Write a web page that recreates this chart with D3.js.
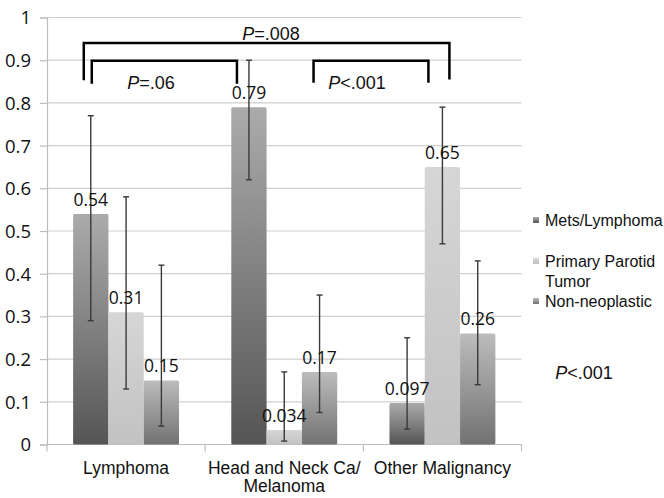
<!DOCTYPE html>
<html><head><meta charset="utf-8">
<script src="https://cdn.jsdelivr.net/npm/d3@7"></script>
<style>body{margin:0;background:#fff}svg{display:block}</style>
</head><body>
<svg id="c" width="664" height="498"></svg>
<script>
const categories = ["Lymphoma", "Head and Neck Ca/\nMelanoma", "Other Malignancy"];
const seriesNames = ["Mets/Lymphoma", "Primary Parotid\nTumor", "Non-neoplastic"];
const metsValues = [0.54, 0.79, 0.097];
const primaryValues = [0.31, 0.034, 0.65];
const nonNeoValues = [0.15, 0.17, 0.26];
const metsLow = [0.29, 0.62, 0.036], metsHigh = [0.77, 0.90, 0.25];
const primaryLow = [0.13, 0.008, 0.47], primaryHigh = [0.58, 0.17, 0.79];
const nonNeoLow = [0.043, 0.075, 0.14], nonNeoHigh = [0.42, 0.35, 0.43];
const valueLabels = [["0.54","0.79","0.097"],["0.31","0.034","0.65"],["0.15","0.17","0.26"]];
const yTicks = [0,0.1,0.2,0.3,0.4,0.5,0.6,0.7,0.8,0.9,1];
const yTickLabels = ["0","0.1","0.2","0.3","0.4","0.5","0.6","0.7","0.8","0.9","1"];

const series = [
  {name: seriesNames[0], values: metsValues, low: metsLow, high: metsHigh, top:"#ababab", bot:"#555555"},
  {name: seriesNames[1], values: primaryValues, low: primaryLow, high: primaryHigh, top:"#d6d6d6", bot:"#c2c2c2"},
  {name: seriesNames[2], values: nonNeoValues, low: nonNeoLow, high: nonNeoHigh, top:"#bcbcbc", bot:"#727272"}
];

const svg = d3.select("#c");
const L = 47, R = 521.5, T = 17.5, B = 444.5;
const y = d3.scaleLinear().domain([0,1]).range([B,T]);
const x0 = d3.scaleBand().domain(d3.range(3)).range([L,R]).paddingInner(0).paddingOuter(0);
const x1 = d3.scaleBand().domain(d3.range(3)).range([0,x0.bandwidth()]).paddingOuter(0.74).paddingInner(0);

const defs = svg.append("defs");
series.forEach((s,i)=>{
  const g = defs.append("linearGradient").attr("id","g"+i).attr("x1",0).attr("y1",0).attr("x2",0).attr("y2",1);
  g.append("stop").attr("offset","0%").attr("stop-color",s.top);
  g.append("stop").attr("offset","100%").attr("stop-color",s.bot);
});

// gridlines
svg.append("g").selectAll("line").data(yTicks).join("line")
  .attr("x1",L).attr("x2",R).attr("y1",d=>y(d)).attr("y2",d=>y(d))
  .attr("stroke","#cfcfcf").attr("stroke-width",1.2);

// y axis
const yAxis = d3.axisLeft(y).tickValues(yTicks).tickFormat((d,i)=>yTickLabels[i]).tickSize(7).tickPadding(9);
const ya = svg.append("g").attr("transform",`translate(${L},0)`).call(yAxis);
ya.select(".domain").attr("stroke","#bdbdbd").attr("stroke-width",1.2);
ya.selectAll(".tick line").attr("stroke","#bdbdbd").attr("stroke-width",1.2);
ya.selectAll("text").attr("font-family","Open Sans, sans-serif").attr("font-size",18.5).attr("fill","#111").attr("dy","0.35em");

// x axis
const xa = svg.append("g").attr("transform",`translate(0,${B})`);
xa.append("line").attr("x1",L).attr("x2",R).attr("stroke","#bdbdbd").attr("stroke-width",1.2);
xa.selectAll("line.t").data([0,1,2,3]).join("line").attr("class","t")
  .attr("x1",d=>L+d*x0.bandwidth()).attr("x2",d=>L+d*x0.bandwidth()).attr("y1",0).attr("y2",7)
  .attr("stroke","#bdbdbd").attr("stroke-width",1.2);
categories.forEach((c,i)=>{
  const t = xa.append("text").attr("x",x0(i)+x0.bandwidth()/2).attr("y",29)
    .attr("text-anchor","middle").attr("font-family","Liberation Sans, Arial, sans-serif").attr("font-size",17.5).attr("fill","#111");
  c.split("\n").forEach((ln,k)=>t.append("tspan").attr("x",x0(i)+x0.bandwidth()/2).attr("dy",k?18:0).text(ln));
});

// bars
series.forEach((s,si)=>{
  const g = svg.append("g");
  g.selectAll("rect").data(s.values).join("rect")
    .attr("x",(d,i)=>x0(i)+x1(si)).attr("width",x1.bandwidth())
    .attr("y",d=>y(d)).attr("height",d=>B-y(d))
    .attr("rx",1.5).attr("fill",`url(#g${si})`);
});
// error bars
series.forEach((s,si)=>{
  const g = svg.append("g").attr("stroke","#3a3a3a").attr("stroke-width",1.4);
  s.values.forEach((v,i)=>{
    const cx = x0(i)+x1(si)+x1.bandwidth()/2;
    g.append("line").attr("x1",cx).attr("x2",cx).attr("y1",y(s.low[i])).attr("y2",y(s.high[i]));
    [s.low[i],s.high[i]].forEach(e=>g.append("line").attr("x1",cx-3).attr("x2",cx+3).attr("y1",y(e)).attr("y2",y(e)));
  });
});
// value labels
series.forEach((s,si)=>{
  s.values.forEach((v,i)=>{
    svg.append("text").attr("x",x0(i)+x1(si)+x1.bandwidth()/2).attr("y",y(v)-8)
      .attr("text-anchor","middle").attr("font-family","Open Sans, sans-serif").attr("font-size",17.5).attr("fill","#111")
      .text(valueLabels[si][i]);
  });
});

// brackets
const br = svg.append("g").attr("stroke","#000").attr("stroke-width",2.5).attr("fill","none");
const bx = (i,si)=>x0(i)+x1(si)+x1.bandwidth()/2;
br.append("path").attr("d",`M${bx(0,0)-7},${y(0.853)}V${y(0.94)}H${bx(2,1)+7}V${y(0.855)}`);
br.append("path").attr("d",`M${bx(0,0)+1},${y(0.845)}V${y(0.899)}H${bx(1,0)-12}V${y(0.845)}`);
br.append("path").attr("d",`M${bx(1,2)-6},${y(0.847)}V${y(0.899)}H${bx(2,1)-14}V${y(0.847)}`);

function pText(xp,yp,rest){
  const t = svg.append("text").attr("x",xp).attr("y",yp).attr("text-anchor","middle")
    .attr("font-family","Liberation Sans, Arial, sans-serif").attr("font-size",18).attr("fill","#111");
  t.append("tspan").attr("font-style","italic").text("P");
  t.append("tspan").text(rest);
}
pText(271,40,"=.008");
pText(151,89,"=.06");
pText(357,89,"<.001");
pText(584,379,"<.001");

// legend
const lg = svg.append("g").attr("font-family","Liberation Sans, Arial, sans-serif").attr("font-size",16).attr("fill","#111");
const legY = [221, 262, 302];
series.forEach((s,si)=>{
  lg.append("rect").attr("x",533).attr("y",legY[si]-4).attr("width",6).attr("height",6).attr("fill",`url(#g${si})`);
  const t = lg.append("text").attr("x",545).attr("y",legY[si]+5);
  s.name.split("\n").forEach((ln,k)=>t.append("tspan").attr("x",545).attr("dy",k?20:0).text(ln));
});
</script>
</body></html>
